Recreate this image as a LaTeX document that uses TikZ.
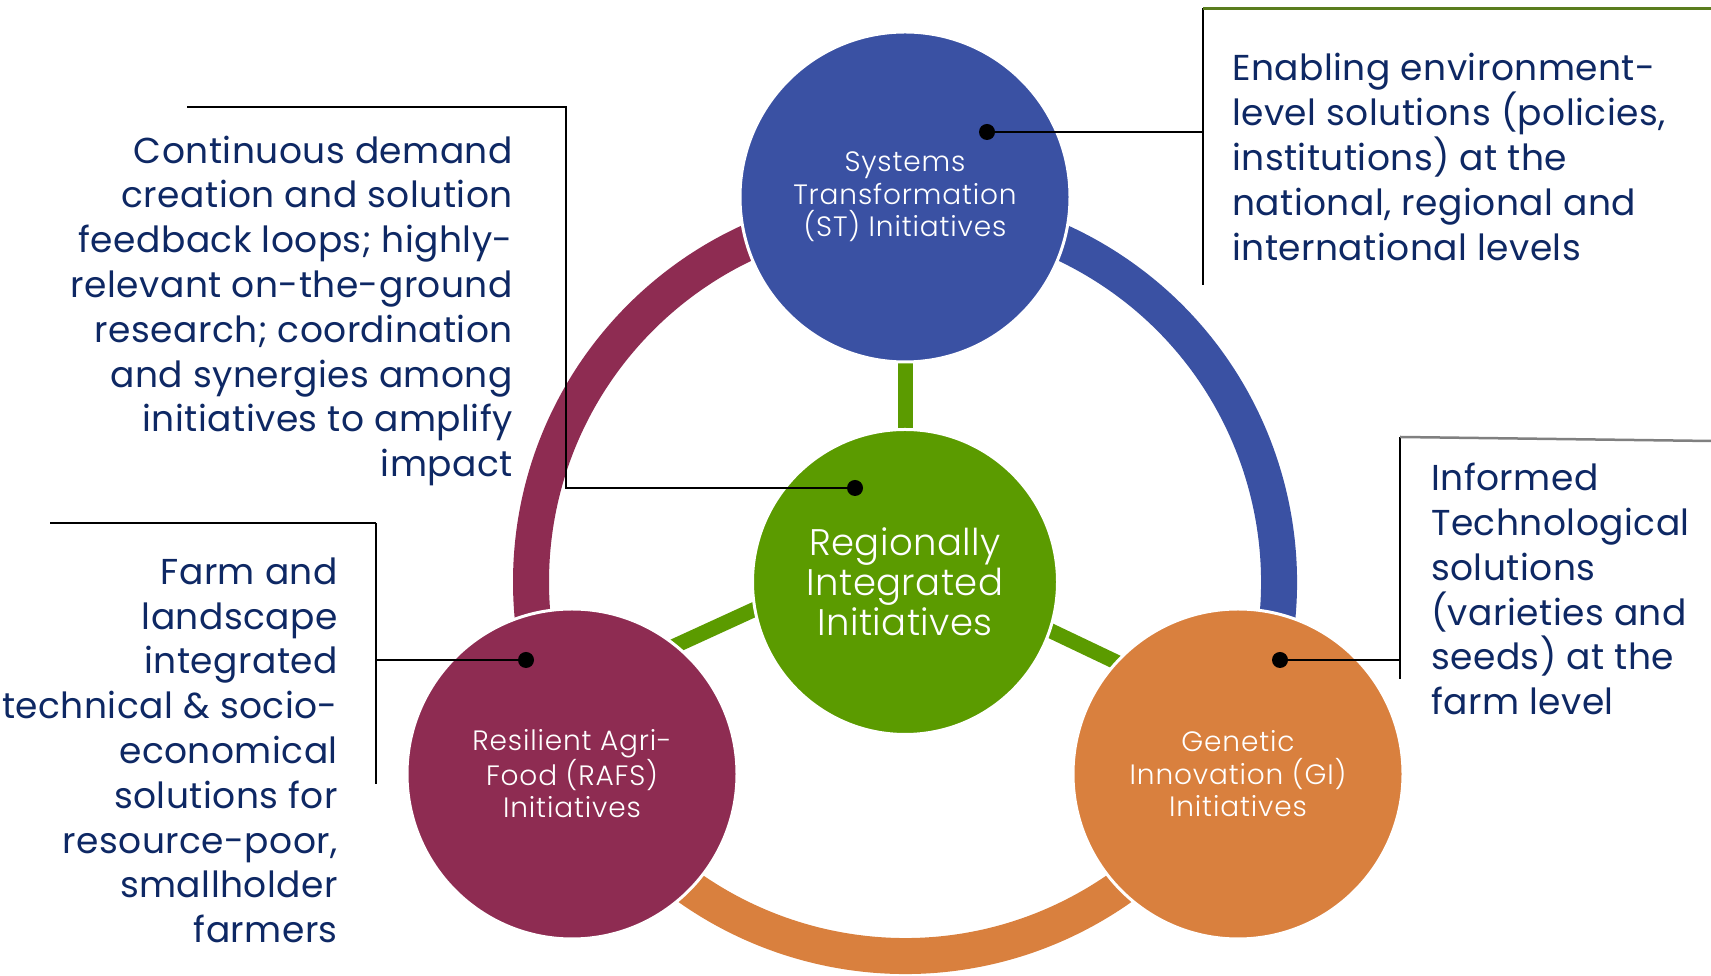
\documentclass[tikz,border=0pt]{standalone}
\usepackage{fontspec}
\setmainfont{Poppins}[LetterSpace=1.3]
\newfontfamily\lightfont{Poppins Light}[LetterSpace=3]
\newfontfamily\lightfontb{Poppins Light}[LetterSpace=1.2]
\definecolor{stblue}{RGB}{58,81,163}
\definecolor{rafsred}{RGB}{142,44,82}
\definecolor{giorange}{RGB}{217,128,62}
\definecolor{rigreen}{RGB}{91,155,0}
\definecolor{navy}{RGB}{14,40,100}
\definecolor{olive}{RGB}{90,125,30}
\definecolor{greyline}{RGB}{128,128,128}
\pgfdeclarelayer{bg}
\pgfdeclarelayer{paper}
\pgfsetlayers{paper,bg,main}
\begin{document}
\begin{tikzpicture}[x=1pt,y=1pt,
  bigcirc/.style={circle, draw=white, line width=3pt, inner sep=0pt, minimum size=330pt,
     text=white, align=center, font=\lightfont\fontsize{28}{32.5}\selectfont},
  ring/.style={line width=36pt},
  spoke/.style={line width=15pt, rigreen},
  callout/.style={line width=2.5pt, black},
  dot/.style={circle, fill=black, inner sep=0pt, minimum size=16pt},
  txt/.style={text=navy, inner sep=0pt, font=\fontsize{36}{44.8}\selectfont}]
\useasboundingbox (0,0) rectangle (1711,976);
\begin{pgfonlayer}{paper}
\fill[white] (0,0) rectangle (1711,976);
\end{pgfonlayer}

% circles
\node[bigcirc, fill=rigreen, minimum size=305pt, font=\lightfontb\fontsize{37}{40}\selectfont] (ri) at (905,394) {Regionally\\Integrated\\Initiatives};
\node[bigcirc, fill=stblue] (st) at (905,779) {Systems\\Transformation\\(ST) Initiatives};
\node[bigcirc, fill=rafsred] (rafs) at (572,202) {Resilient Agri-\\Food (RAFS)\\Initiatives};
\node[bigcirc, fill=giorange] (gi) at (1238,202) {Genetic\\Innovation (GI)\\Initiatives};

% spoke end points (hidden under the circles)
\coordinate (sp1a) at (905,435.5);
\coordinate (sp1b) at (572,283);
\coordinate (sp2a) at (905,414.5);
\coordinate (sp2b) at (1238,256);

\begin{pgfonlayer}{bg}
  \draw[ring, stblue] (ri.center) ++(-30:374pt) arc[start angle=-30, end angle=90, radius=374pt];
  \draw[ring, rafsred] (ri.center) ++(90:374pt) arc[start angle=90, end angle=210, radius=374pt];
  \draw[ring, giorange] (ri.center) ++(210:374pt) arc[start angle=210, end angle=330, radius=374pt];
  \draw[spoke] (ri.center) -- (st.center);
  \draw[spoke] (sp1a) -- (sp1b);
  \draw[spoke] (sp2a) -- (sp2b);
\end{pgfonlayer}

% callout 1: ST
\node[dot] (d1) at (987,844) {};
\coordinate (c1a) at (1203,844);
\coordinate (c1t) at (1203,967.5);
\coordinate (c1b) at (1203,691);
\coordinate (c1e) at (1711,967.5);
\draw[callout] (d1.center) -- (c1a);
\draw[callout] (c1t) -- (c1b);
\draw[line width=2.5pt, olive] (c1t) -- (c1e);
\node[txt, align=left, anchor=base west] (t1) at (1232,715.8)
  {Enabling environment-\\level solutions (policies,\\institutions) at the\\national, regional and\\international levels};

% callout 2: GI
\node[dot] (d2) at (1280,316) {};
\coordinate (c2a) at (1400,316);
\coordinate (c2t) at (1400,539);
\coordinate (c2b) at (1400,297);
\coordinate (c2e) at (1711,535);
\draw[callout] (d2.center) -- (c2a);
\draw[callout] (c2t) -- (c2b);
\draw[line width=2.5pt, greyline] (c2t) -- (c2e);
\node[txt, align=left, anchor=base west] (t2) at (1431,261.3)
  {Informed\\Technological\\solutions\\(varieties and\\seeds) at the\\farm level};

% callout 3: RI
\node[dot] (d3) at (855,488) {};
\coordinate (c3a) at (566,488);
\coordinate (c3t) at (566,869);
\coordinate (c3e) at (187,869);
\draw[callout] (d3.center) -- (c3a) -- (c3t) -- (c3e);
\node[txt, align=right, anchor=base east] (t3) at (513,499.3)
  {Continuous demand\\creation and solution\\feedback loops; highly-\\relevant on-the-ground\\research; coordination\\and synergies among\\initiatives to amplify\\impact};

% callout 4: RAFS
\node[dot] (d4) at (526,316) {};
\coordinate (c4a) at (376,316);
\coordinate (c4t) at (376,453);
\coordinate (c4b) at (376,192);
\coordinate (c4e) at (50,453);
\draw[callout] (d4.center) -- (c4a);
\draw[callout] (c4t) -- (c4b);
\draw[callout] (c4t) -- (c4e);
\node[txt, align=right, anchor=base east] (t4) at (338,33.3)
  {Farm and\\landscape\\integrated\\technical \& socio-\\economical\\solutions for\\resource-poor,\\smallholder\\farmers};
\end{tikzpicture}
\end{document}
